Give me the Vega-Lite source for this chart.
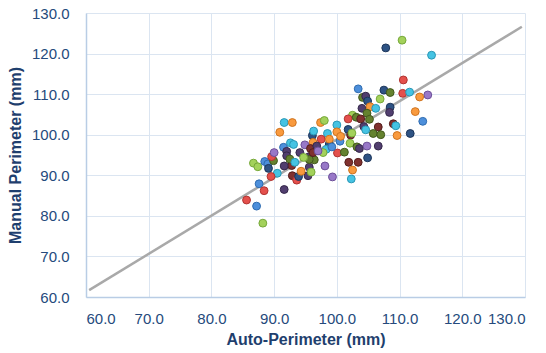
{
  "$schema": "https://vega.github.io/schema/vega-lite/v6.json",
  "width": 439,
  "height": 284,
  "autosize": {"type": "none"},
  "padding": {"left": 86, "top": 13, "right": 21, "bottom": 56},
  "background": "white",
  "config": {
    "view": {"stroke": null},
    "axis": {
      "domainColor": "#b9cde5",
      "domainWidth": 1.5,
      "gridColor": "#dbe5f1",
      "gridWidth": 1,
      "ticks": false,
      "labelColor": "#254a7c",
      "labelFont": "Liberation Sans",
      "labelFontSize": 15,
      "titleColor": "#1f3f6e",
      "titleFont": "Liberation Sans",
      "titleFontSize": 16,
      "titleFontWeight": "bold"
    }
  },
  "datasets": {
    "points": [
      {"auto": 107.8, "manual": 121.4, "s": "navy"},
      {"auto": 110.4, "manual": 123.3, "s": "lime"},
      {"auto": 115.1, "manual": 119.6, "s": "cyan"},
      {"auto": 110.6, "manual": 113.5, "s": "red"},
      {"auto": 103.4, "manual": 111.3, "s": "blue"},
      {"auto": 107.5, "manual": 111.0, "s": "navy"},
      {"auto": 108.5, "manual": 110.4, "s": "darkgreen"},
      {"auto": 110.5, "manual": 110.2, "s": "red"},
      {"auto": 111.6, "manual": 110.5, "s": "cyan"},
      {"auto": 114.5, "manual": 109.8, "s": "purple"},
      {"auto": 113.2, "manual": 109.3, "s": "orange"},
      {"auto": 106.9, "manual": 108.8, "s": "lime"},
      {"auto": 104.1, "manual": 109.2, "s": "darkgreen"},
      {"auto": 104.6, "manual": 109.5, "s": "darkpurple"},
      {"auto": 104.9, "manual": 108.3, "s": "navy"},
      {"auto": 108.5, "manual": 106.8, "s": "navy"},
      {"auto": 108.4, "manual": 105.5, "s": "darkpurple"},
      {"auto": 112.5, "manual": 105.7, "s": "orange"},
      {"auto": 113.7, "manual": 103.3, "s": "blue"},
      {"auto": 104.0, "manual": 106.5, "s": "darkpurple"},
      {"auto": 105.3, "manual": 106.9, "s": "orange"},
      {"auto": 106.2, "manual": 106.5, "s": "cyan"},
      {"auto": 104.8, "manual": 105.3, "s": "darkgreen"},
      {"auto": 102.5, "manual": 104.8, "s": "lime"},
      {"auto": 101.8, "manual": 103.9, "s": "red"},
      {"auto": 103.1, "manual": 104.3, "s": "darkgreen"},
      {"auto": 103.8, "manual": 103.9, "s": "darkred"},
      {"auto": 105.2, "manual": 103.8, "s": "darkgreen"},
      {"auto": 109.0, "manual": 102.7, "s": "darkred"},
      {"auto": 109.4, "manual": 102.2, "s": "cyan"},
      {"auto": 106.6, "manual": 101.9, "s": "darkred"},
      {"auto": 111.7, "manual": 100.3, "s": "navy"},
      {"auto": 109.6, "manual": 99.8, "s": "orange"},
      {"auto": 105.8, "manual": 100.3, "s": "darkgreen"},
      {"auto": 107.0, "manual": 100.0, "s": "darkgreen"},
      {"auto": 104.3, "manual": 102.0, "s": "darkpurple"},
      {"auto": 101.8, "manual": 101.3, "s": "navy"},
      {"auto": 102.2, "manual": 99.9, "s": "darkred"},
      {"auto": 104.6, "manual": 101.2, "s": "cyan"},
      {"auto": 91.6, "manual": 103.0, "s": "cyan"},
      {"auto": 92.9, "manual": 103.0, "s": "orange"},
      {"auto": 90.9, "manual": 100.6, "s": "orange"},
      {"auto": 97.4, "manual": 103.0, "s": "orange"},
      {"auto": 98.0, "manual": 103.5, "s": "lime"},
      {"auto": 100.0, "manual": 102.4, "s": "cyan"},
      {"auto": 100.0, "manual": 100.7, "s": "orange"},
      {"auto": 98.5, "manual": 100.3, "s": "cyan"},
      {"auto": 96.1, "manual": 99.8, "s": "navy"},
      {"auto": 102.4, "manual": 100.4, "s": "lime"},
      {"auto": 97.5, "manual": 98.9, "s": "red"},
      {"auto": 96.2, "manual": 98.1, "s": "orange"},
      {"auto": 98.8, "manual": 97.7, "s": "navy"},
      {"auto": 98.8, "manual": 98.9, "s": "orange"},
      {"auto": 91.5, "manual": 96.9, "s": "blue"},
      {"auto": 92.6, "manual": 98.0, "s": "cyan"},
      {"auto": 93.1, "manual": 97.6, "s": "cyan"},
      {"auto": 94.9, "manual": 97.5, "s": "purple"},
      {"auto": 95.8, "manual": 96.6, "s": "darkred"},
      {"auto": 96.8, "manual": 97.2, "s": "darkpurple"},
      {"auto": 98.3, "manual": 96.4, "s": "cyan"},
      {"auto": 100.5, "manual": 98.4, "s": "blue"},
      {"auto": 102.1, "manual": 97.9, "s": "lime"},
      {"auto": 103.2, "manual": 97.0, "s": "darkgreen"},
      {"auto": 103.6, "manual": 96.6, "s": "darkpurple"},
      {"auto": 104.8, "manual": 97.2, "s": "purple"},
      {"auto": 106.6, "manual": 97.2, "s": "darkpurple"},
      {"auto": 100.1, "manual": 95.5, "s": "red"},
      {"auto": 101.2, "manual": 95.7, "s": "darkgreen"},
      {"auto": 97.8, "manual": 95.6, "s": "lime"},
      {"auto": 104.9, "manual": 94.3, "s": "navy"},
      {"auto": 101.9, "manual": 93.2, "s": "darkred"},
      {"auto": 103.4, "manual": 93.2, "s": "darkred"},
      {"auto": 102.5, "manual": 91.3, "s": "orange"},
      {"auto": 102.3, "manual": 89.1, "s": "cyan"},
      {"auto": 99.3, "manual": 89.6, "s": "purple"},
      {"auto": 98.1, "manual": 92.3, "s": "purple"},
      {"auto": 95.4, "manual": 89.9, "s": "darkpurple"},
      {"auto": 95.6, "manual": 92.0, "s": "darkpurple"},
      {"auto": 95.6, "manual": 94.6, "s": "darkpurple"},
      {"auto": 96.4, "manual": 93.8, "s": "darkgreen"},
      {"auto": 95.9, "manual": 90.8, "s": "lime"},
      {"auto": 92.9, "manual": 89.9, "s": "darkred"},
      {"auto": 93.6, "manual": 88.8, "s": "red"},
      {"auto": 93.9, "manual": 89.7, "s": "navy"},
      {"auto": 94.3, "manual": 91.0, "s": "orange"},
      {"auto": 92.8, "manual": 92.4, "s": "darkred"},
      {"auto": 91.6, "manual": 92.3, "s": "darkpurple"},
      {"auto": 91.6, "manual": 86.5, "s": "darkpurple"},
      {"auto": 90.5, "manual": 90.5, "s": "cyan"},
      {"auto": 89.5, "manual": 89.7, "s": "red"},
      {"auto": 87.6, "manual": 87.9, "s": "blue"},
      {"auto": 88.4, "manual": 86.2, "s": "red"},
      {"auto": 85.6, "manual": 83.9, "s": "red"},
      {"auto": 87.2, "manual": 82.4, "s": "blue"},
      {"auto": 88.2, "manual": 78.2, "s": "lime"},
      {"auto": 86.7, "manual": 93.0, "s": "lime"},
      {"auto": 87.4, "manual": 92.1, "s": "lime"},
      {"auto": 88.5, "manual": 93.4, "s": "blue"},
      {"auto": 89.0, "manual": 92.8, "s": "blue"},
      {"auto": 89.1, "manual": 91.7, "s": "navy"},
      {"auto": 89.9, "manual": 93.6, "s": "darkgreen"},
      {"auto": 89.6, "manual": 94.6, "s": "red"},
      {"auto": 90.0, "manual": 95.6, "s": "purple"},
      {"auto": 92.0, "manual": 95.9, "s": "darkpurple"},
      {"auto": 92.0, "manual": 94.8, "s": "darkpurple"},
      {"auto": 94.1, "manual": 95.6, "s": "darkpurple"},
      {"auto": 95.6, "manual": 93.9, "s": "darkgreen"},
      {"auto": 94.7, "manual": 94.4, "s": "lime"},
      {"auto": 96.2, "manual": 95.6, "s": "darkred"},
      {"auto": 92.5, "manual": 94.0, "s": "darkgreen"},
      {"auto": 93.3, "manual": 93.2, "s": "cyan"},
      {"auto": 97.0, "manual": 96.0, "s": "purple"},
      {"auto": 99.2, "manual": 97.0, "s": "blue"},
      {"auto": 100.6, "manual": 99.6, "s": "orange"},
      {"auto": 96.3, "manual": 100.9, "s": "cyan"}
    ],
    "trend": [
      {"auto": 60.5, "manual": 61.7},
      {"auto": 129.5, "manual": 126.6}
    ]
  },
  "layer": [
    {
      "data": {"name": "trend"},
      "mark": {"type": "line", "color": "#a9a9a9", "strokeWidth": 2.5},
      "encoding": {
        "x": {"field": "auto", "type": "quantitative"},
        "y": {"field": "manual", "type": "quantitative"}
      }
    },
    {
      "data": {"name": "points"},
      "mark": {"type": "point", "filled": true, "size": 62, "strokeWidth": 1, "opacity": 1, "fillOpacity": 1, "strokeOpacity": 1},
      "encoding": {
        "x": {
          "field": "auto", "type": "quantitative",
          "scale": {"domain": [60, 130], "nice": false, "zero": false},
          "axis": {"values": [60, 70, 80, 90, 100, 110, 120, 130], "format": ".1f", "labelPadding": 14, "titlePadding": 5, "title": "Auto-Perimeter (mm)"}
        },
        "y": {
          "field": "manual", "type": "quantitative",
          "scale": {"domain": [60, 130], "nice": false, "zero": false},
          "axis": {"values": [60, 70, 80, 90, 100, 110, 120, 130], "format": ".1f", "labelPadding": 17, "titlePadding": 8, "title": "Manual Perimeter (mm)"}
        },
        "fill": {
          "field": "s", "type": "nominal", "legend": null,
          "scale": {
            "domain": ["blue", "red", "lime", "purple", "cyan", "orange", "navy", "darkred", "darkgreen", "darkpurple"],
            "range": ["#4d8fdb", "#e4504c", "#a3d15b", "#9878c8", "#45c3e3", "#f99a3e", "#2e5384", "#80312f", "#64822f", "#513e6f"]
          }
        },
        "stroke": {
          "field": "s", "type": "nominal", "legend": null,
          "scale": {
            "domain": ["blue", "red", "lime", "purple", "cyan", "orange", "navy", "darkred", "darkgreen", "darkpurple"],
            "range": ["#2f6cb0", "#b13532", "#76a83a", "#6c4f98", "#2a97b5", "#cf7420", "#1c355a", "#551e1d", "#42581d", "#35284a"]
          }
        }
      }
    }
  ]
}
